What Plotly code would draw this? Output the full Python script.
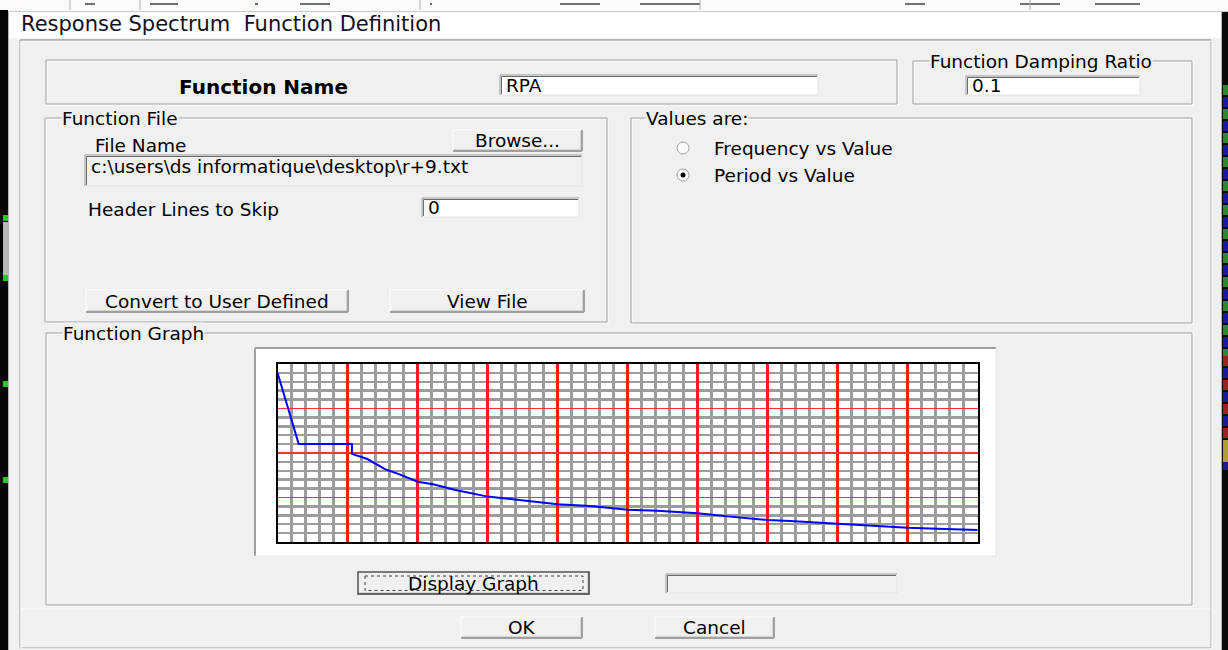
import plotly.graph_objects as go

# ---------------- data ----------------
period = [0.0, 0.15, 0.53, 0.53, 0.64, 0.77, 0.87, 1.0, 1.11, 1.27, 1.5, 1.68,
          2.0, 2.23, 2.5, 2.71, 3.0, 3.23, 3.5, 3.66, 4.0, 4.23, 4.5, 4.71, 5.0]
value = [0.379, 0.22, 0.22, 0.198, 0.1865, 0.163, 0.152, 0.1355, 0.1297, 0.117,
         0.102, 0.096, 0.0847, 0.081, 0.0726, 0.0703, 0.0645, 0.057, 0.0494,
         0.047, 0.0404, 0.0366, 0.0321, 0.030, 0.027]

dialog_title = "Response Spectrum  Function Definition"
function_name = "RPA"
damping_ratio = "0.1"
file_path = "c:\\users\\ds informatique\\desktop\\r+9.txt"
header_lines = "0"

W, H = 1228, 650
BG = "#f0f0f0"
FONT = "DejaVu Sans"
FS = 18.5

shapes = []
annots = []


def rect(x0, y0, x1, y1, fill=None, line=None, lw=1):
    shapes.append(dict(type="rect", xref="x", yref="y", x0=x0, y0=y0, x1=x1, y1=y1,
                       fillcolor=fill if fill else "rgba(0,0,0,0)",
                       line=dict(color=line if line else "rgba(0,0,0,0)", width=lw if line else 0),
                       layer="below"))


def seg(x0, y0, x1, y1, color, lw=1, dash=None):
    d = dict(color=color, width=lw)
    if dash:
        d["dash"] = dash
    shapes.append(dict(type="line", xref="x", yref="y", x0=x0, y0=y0, x1=x1, y1=y1,
                       line=d, layer="below"))


def text(x, y, s, size=FS, bold=False, anchor="left", bg=None, color="#000000"):
    a = dict(x=x, y=y, xref="x", yref="y", text=("<b>%s</b>" % s) if bold else s,
             showarrow=False, xanchor=anchor, yanchor="middle",
             font=dict(family=FONT, size=size, color=color))
    if bg:
        a["bgcolor"] = bg
        a["borderpad"] = 0
    annots.append(a)


def group(x0, y0, x1, y1, legend=None, lx=None):
    rect(x0 + 1, y0 + 1, x1 + 1, y1 + 1, line="#ffffff")
    rect(x0, y0, x1, y1, line="#a0a0a0")
    if legend:
        text(lx, y0, legend, bg=BG)


def textbox(x0, y0, x1, y1, s="", fill="#ffffff"):
    rect(x0, y0, x1, y1, fill=fill, line="#e3e3e3")
    seg(x0, y0, x1, y0, "#a0a0a0", 1)
    seg(x0, y0, x0, y1, "#a0a0a0", 1)
    seg(x0 + 1.5, y0 + 1.5, x1 - 1, y0 + 1.5, "#696969", 1)
    seg(x0 + 1.5, y0 + 1.5, x0 + 1.5, y1 - 1, "#696969", 1)
    if s:
        text(x0 + 4, (y0 + y1) / 2, s)


def button(x0, y0, x1, y1, s, default=False):
    rect(x0, y0, x1, y1, fill=BG, line="#ffffff")
    seg(x0, y1, x1, y1, "#a0a0a0", 2)
    seg(x1, y0, x1, y1, "#a0a0a0", 2)
    seg(x0 + 1, y1 - 1.5, x1 - 1, y1 - 1.5, "#d5d5d5", 1)
    seg(x1 - 1.5, y0 + 1, x1 - 1.5, y1 - 1, "#d5d5d5", 1)
    if default:
        rect(x0, y0, x1, y1, line="#505050", lw=1.5)
        rect(x0 + 7, y0 + 4, x1 - 6, y1 - 3.5, line="#404040", lw=1)
        shapes[-1]["line"]["dash"] = "dot"
    text((x0 + x1) / 2, (y0 + y1) / 2, s, anchor="center")


# ---------------- surroundings ----------------
rect(0, 0, W, 12, fill="#fafafa")
seg(0, 11.5, W, 11.5, "#c8c8c8", 1)
for x0, x1 in [(85, 95), (150, 178), (255, 258), (300, 330), (430, 432), (560, 600),
               (640, 700), (905, 925), (1020, 1060), (1095, 1140)]:
    rect(x0, 3, x1, 5, fill="#707070")
for xx in (70, 140, 420, 700, 1030):
    seg(xx, 0, xx, 10, "#b0b0b0", 1)
rect(0, 10, 8, H, fill="#050505")
rect(3, 222, 8, 278, fill="#b8b8b8")
for yy in (218, 278, 384, 480):
    rect(3, yy - 3, 8, yy + 3, fill="#22cc22")
rect(1222, 12, W, H, fill="#0a0a0a")
ys = 85
cols = ["#2c8a2c", "#1a1a9a"]
i = 0
while ys < 352:
    rect(1223, ys, W, ys + 10, fill=cols[i % 2])
    ys += 12
    i += 1
for k, yy in enumerate(range(356, 440, 12)):
    rect(1223, yy, W, yy + 10, fill=["#a02020", "#1a1a9a"][k % 2])
rect(1223, 440, W, 462, fill="#b0a030")
rect(1223, 462, W, 470, fill="#1a1a9a")

# ---------------- dialog frame ----------------
rect(8, 12, 1222, 38, fill="#ffffff")
rect(8, 38, 1222, H + 2, fill=BG)
seg(8.5, 12, 8.5, H, "#b4b4b4", 1)
seg(1221.5, 12, 1221.5, H, "#b4b4b4", 1)
rect(20, 40, 1211, 648, line="#a0a0a0")
rect(21, 41, 1212, 649, line="#ffffff")
seg(20, 40, 1211, 40, "#a0a0a0", 1)
text(19, 24, dialog_title, size=21, color="#111122")

# Function name
group(46, 60, 897, 104)
text(263, 87, "Function Name", size=20, bold=True, anchor="center")
textbox(500, 75, 818, 95, function_name)

# damping ratio
group(913, 61, 1192, 104, "Function Damping Ratio", 929)
textbox(966, 76, 1140, 95, damping_ratio)

# Function File
group(45, 118, 607, 322, "Function File", 61)
text(93, 145, "File Name")
button(453, 130, 582, 151, "Browse...")
textbox(85, 155, 582, 186, "", fill=BG)
text(89, 166, file_path)
text(86, 209, "Header Lines to Skip")
textbox(422, 198, 579, 217, header_lines)
button(86, 290, 348, 312, "Convert to User Defined")
button(390, 290, 584, 312, "View File")

# values are
group(631, 118, 1192, 323, "Values are:", 645)
for cy, sel, label in [(148, False, "Frequency vs Value"), (175, True, "Period vs Value")]:
    shapes.append(dict(type="circle", xref="x", yref="y", x0=677, y0=cy - 6, x1=689, y1=cy + 6,
                       fillcolor="#ffffff", line=dict(color="#a0a0a0", width=1), layer="below"))
    if sel:
        shapes.append(dict(type="circle", xref="x", yref="y", x0=680.5, y0=cy - 2.5, x1=685.5,
                           y1=cy + 2.5, fillcolor="#000000", line=dict(color="#000000", width=0),
                           layer="below"))
    text(712, cy, label)

# Function Graph
group(46, 333, 1192, 605, "Function Graph", 62)
rect(255, 348, 996, 556, fill="#ffffff")
seg(255, 348, 996, 348, "#a0a0a0", 2)
seg(255, 348, 255, 556, "#a0a0a0", 2)
seg(255, 556, 996, 556, "#e6e6e6", 1)
seg(996, 348, 996, 556, "#e6e6e6", 1)
button(358, 572, 589, 594, "Display Graph", default=True)
textbox(666, 574, 897, 593, "", fill=BG)
seg(22, 609, 1210, 609, "#ffffff", 1)
button(461, 617, 582, 638, "OK")
button(655, 617, 774, 638, "Cancel")

# ---------------- figure ----------------
px0, px1, py0, py1 = 277.7, 977.7, 364.0, 542.0
fig = go.Figure()
fig.add_trace(go.Scatter(x=[0, W], y=[0, H], mode="markers", marker=dict(opacity=0),
                         hoverinfo="skip", showlegend=False, xaxis="x", yaxis="y"))
fig.add_trace(go.Scatter(x=period, y=value, mode="lines",
                         line=dict(color="#0000ff", width=2),
                         showlegend=False, xaxis="x2", yaxis="y2"))

fig.update_layout(
    width=W, height=H, margin=dict(l=0, r=0, t=0, b=0),
    paper_bgcolor=BG, plot_bgcolor="rgba(0,0,0,0)",
    xaxis=dict(range=[0, W], domain=[0, 1], visible=False, fixedrange=True),
    yaxis=dict(range=[H, 0], domain=[0, 1], visible=False, fixedrange=True),
    xaxis2=dict(domain=[px0 / W, px1 / W], anchor="y2", range=[0, 5], dtick=0.5, tick0=0,
                showgrid=True, gridcolor="#ff1a1a", gridwidth=2.5,
                minor=dict(dtick=0.1, tick0=0, showgrid=True, gridcolor="#9c9c9c", gridwidth=2.5),
                showticklabels=False, ticks="", zeroline=False,
                showline=True, linecolor="#000000", linewidth=2, mirror=True, fixedrange=True),
    yaxis2=dict(domain=[1 - py1 / H, 1 - py0 / H], anchor="x2", range=[0, 0.4], dtick=0.1, tick0=0,
                showgrid=True, gridcolor="#ff3030", gridwidth=1.5,
                minor=dict(dtick=0.02, tick0=0, showgrid=True, gridcolor="#9c9c9c", gridwidth=2.5),
                showticklabels=False, ticks="", zeroline=False,
                showline=True, linecolor="#000000", linewidth=2, mirror=True, fixedrange=True),
    shapes=shapes, annotations=annots, showlegend=False,
)

fig.write_html("out.html", config={"displayModeBar": False, "staticPlot": True},
               post_script="document.body.style.margin='0px';document.body.style.overflow='hidden';")
